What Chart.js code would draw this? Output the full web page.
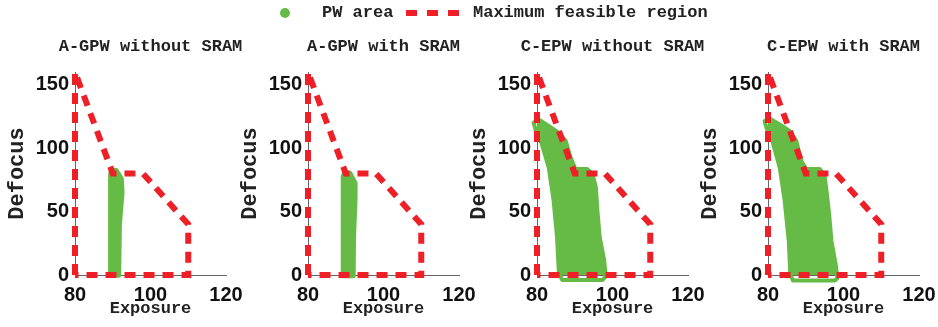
<!DOCTYPE html>
<html>
<head>
<meta charset="utf-8">
<script src="https://cdn.jsdelivr.net/npm/chart.js@4.4.1/dist/chart.umd.min.js"></script>
<style>
  html, body { margin:0; padding:0; background:#fff; width:938px; height:327px; overflow:hidden; position:relative; }
  canvas { position:absolute; top:0; }
  .lg { position:absolute; font-family:'Liberation Mono', monospace; font-weight:bold; font-size:17px; color:#222; line-height:20px; top:3px; z-index:5; white-space:nowrap; }
  .dot { position:absolute; width:10px; height:10px; border-radius:50%; background:#66bb46; left:280px; top:8px; z-index:5; }
  .dash { position:absolute; width:11px; height:6px; background:#ee1f26; top:10px; z-index:5; }
</style>
</head>
<body>
<div class="dot"></div>
<div class="lg" style="left:322px">PW area</div>
<div class="dash" style="left:406px"></div>
<div class="dash" style="left:427px"></div>
<div class="dash" style="left:448px"></div>
<div class="lg" style="left:473px">Maximum feasible region</div>

<canvas id="c0" width="301" height="327"></canvas>
<canvas id="c1" width="301" height="327"></canvas>
<canvas id="c2" width="301" height="327"></canvas>
<canvas id="c3" width="301" height="327"></canvas>

<script>
// ---- data ----
const titles = ['A-GPW without SRAM', 'A-GPW with SRAM', 'C-EPW without SRAM', 'C-EPW with SRAM'];
const legendLabels = ['PW area', 'Maximum feasible region'];
const xTicks = [80, 100, 120];
const yTicks = [0, 50, 100, 150];
const xTitle = 'Exposure';
const yTitle = 'Defocus';

// Maximum feasible region boundary (same for all panels)
const feasibleX = [80, 80, 90, 98, 110, 110, 80];
const feasibleY = [0, 160, 80, 80, 40, 0, 0];

// PW area boundaries
const pwAGPWnoX = [89.3, 89.3, 89.8, 91.0, 92.4, 92.6, 91.9, 91.7, 89.3];
const pwAGPWnoY = [-0.5, 80, 82.7, 82.7, 76, 65, 40, -0.5, -0.5];
const pwAGPWwX  = [89.2, 89.2, 89.6, 91.2, 92.5, 92.6, 92.2, 92.1, 89.2];
const pwAGPWwY  = [-1, 78, 80.5, 80.5, 73, 60, 30, -1, -1];
const pwCEPWnoX = [79.1, 80.4, 83.1, 85.8, 87.6, 88.9, 90.2, 93.3, 94.7, 95.6, 96.0, 96.6, 97.8, 98.2, 97.3, 86.7, 85.8, 85.3, 84.4, 83.1, 81.3, 79.6, 79.1];
const pwCEPWnoY = [120, 122.6, 117.4, 112, 105.7, 92.6, 83.5, 83.5, 79.6, 69, 51, 30, 11.7, -1.3, -4, -4, 1.3, 30, 58.7, 84.8, 103, 114.8, 120];
const pwCEPWwX  = [79.1, 80.4, 83.1, 85.7, 87.5, 88.8, 90.1, 93.7, 95.0, 95.6, 96.2, 96.8, 97.9, 98.4, 97.7, 86.6, 85.9, 85.5, 84.4, 83.1, 81.3, 79.6, 79.1];
const pwCEPWwY  = [121.3, 123.4, 118.7, 113.5, 105.7, 90, 83.5, 83.5, 78.3, 64, 48, 27, 9, -2.6, -4.4, -4.4, 1.3, 27, 58.7, 84.8, 104, 116, 121.3];

const pwX = [pwAGPWnoX, pwAGPWwX, pwCEPWnoX, pwCEPWwX];
const pwY = [pwAGPWnoY, pwAGPWwY, pwCEPWnoY, pwCEPWwY];

// ---- layout / style ----
const axisLeft = [75, 308, 537, 768];
const green = '#66bb46';
const red = '#ee1f26';
const zip = (xs, ys) => xs.map((x, i) => ({x: x, y: ys[i]}));

for (let i = 0; i < 4; i++) {
  const cv = document.getElementById('c' + i);
  cv.style.left = (axisLeft[i] - 75) + 'px';
  new Chart(cv, {
    type: 'scatter',
    data: {
      datasets: [
        {
          label: legendLabels[1],
          data: zip(feasibleX, feasibleY),
          showLine: true,
          borderColor: red,
          backgroundColor: red,
          borderWidth: 6,
          borderDash: [11, 8],
          pointRadius: 0,
          fill: false,
          tension: 0,
          clip: false
        },
        {
          label: legendLabels[0],
          data: zip(pwX[i], pwY[i]),
          showLine: true,
          borderColor: green,
          backgroundColor: green,
          borderWidth: 4,
          borderJoinStyle: 'round',
          borderCapStyle: 'round',
          pointRadius: 0,
          fill: 'shape',
          tension: 0,
          clip: false
        }
      ]
    },
    options: {
      responsive: false,
      animation: false,
      devicePixelRatio: 1,
      layout: { padding: 0 },
      plugins: {
        legend: { display: false },
        tooltip: { enabled: false },
        title: {
          display: true,
          text: titles[i],
          color: '#222',
          font: { family: 'Liberation Mono', size: 17, weight: 'bold' },
          padding: { top: 37, bottom: 14.6 }
        }
      },
      scales: {
        x: {
          type: 'linear',
          min: 80, max: 120,
          afterBuildTicks: s => { s.ticks = xTicks.map(v => ({value: v})); },
          afterFit: s => { s.height = 52; },
          grid: { display: false, drawTicks: false },
          border: { display: true, color: '#666', width: 1 },
          ticks: { color: '#111', padding: 8, maxRotation: 0, font: { family: 'Liberation Sans', size: 20, weight: 'bold' } },
          title: { display: true, text: xTitle, color: '#222', padding: { top: 0, bottom: 8 }, font: { family: 'Liberation Mono', size: 17, weight: 'bold' } }
        },
        y: {
          type: 'linear',
          min: 0, max: 160,
          afterBuildTicks: s => { s.ticks = yTicks.map(v => ({value: v})); },
          afterFit: s => { s.width = 75; },
          grid: { display: false, drawTicks: false },
          border: { display: true, color: '#666', width: 1 },
          ticks: { color: '#111', padding: 6, font: { family: 'Liberation Sans', size: 20, weight: 'bold' } },
          title: { display: true, text: yTitle, color: '#222', padding: { top: 4, bottom: 0 }, font: { family: 'Liberation Mono', size: 22, weight: 'bold' } }
        },
        yRight: {
          type: 'linear',
          position: 'right',
          min: 0, max: 160,
          display: true,
          afterFit: s => { s.width = 75; },
          grid: { display: false, drawTicks: false },
          border: { display: false },
          ticks: { display: false }
        }
      }
    }
  });
}
</script>
</body>
</html>
